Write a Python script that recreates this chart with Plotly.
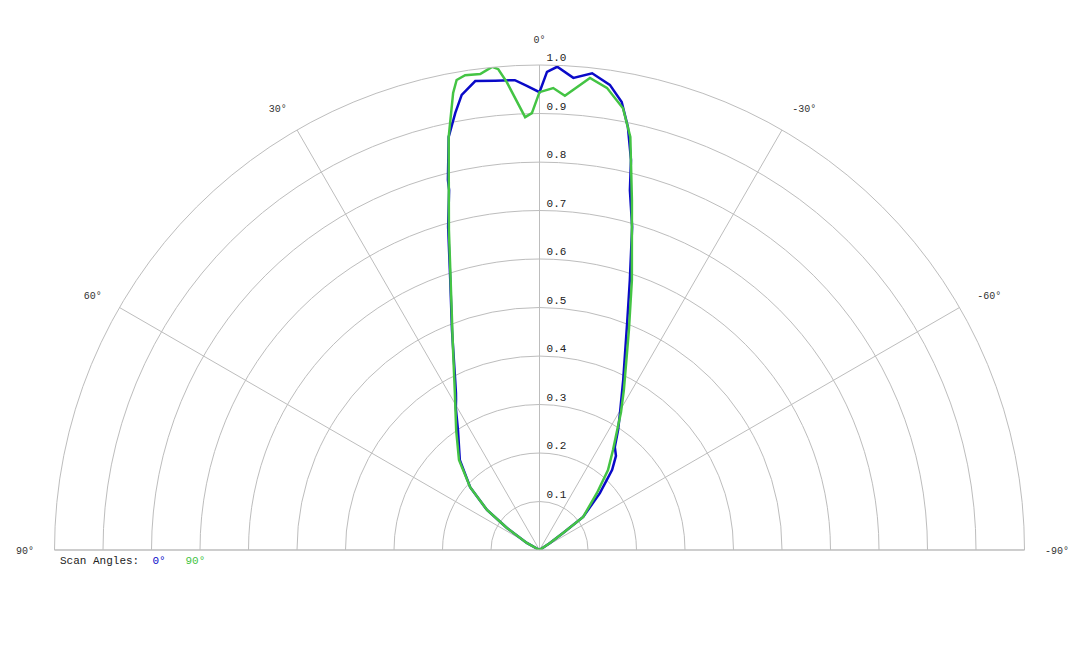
import plotly.graph_objects as go

# Scan angle series (angle in degrees, normalized radius)
series_names = ["0°", "90°"]
series_colors = ["#0a0ac8", "#44c444"]

theta_0 = [60.0, 60.8, 55.9, 52.7, 47.8, 41.5, 34.2, 30.5, 29.0, 28.0, 26.4, 21.7,
           18.3, 15.8, 14.1, 13.9, 12.4, 10.9, 9.7, 7.8, 5.4, 3.0, 1.5, 0.0,
           -0.9, -2.1, -4.1, -6.3, -8.6, -10.4, -11.8, -13.2, -14.1, -16.0, -18.5,
           -21.1, -26.2, -30.4, -33.2, -36.2, -39.1, -42.2, -46.7, -52.8, -54.1,
           -56.3, -57.0]
r_0 = [0.0, 0.030, 0.081, 0.136, 0.193, 0.248, 0.299, 0.340, 0.355, 0.367, 0.391, 0.488,
       0.586, 0.692, 0.765, 0.786, 0.872, 0.918, 0.952, 0.976, 0.972, 0.970, 0.957, 0.944,
       0.986, 0.997, 0.976, 0.989, 0.970, 0.939, 0.891, 0.826, 0.765, 0.693, 0.587,
       0.502, 0.391, 0.328, 0.296, 0.263, 0.250, 0.223, 0.171, 0.113, 0.060,
       0.026, 0.0]

theta_90 = [60.0, 60.8, 55.9, 52.7, 47.8, 41.8, 34.8, 28.3, 23.1, 15.8, 12.4, 10.7,
            10.0, 8.9, 7.1, 5.6, 4.9, 4.0, 1.9, 1.0, 0.0, -1.7, -3.2, -6.1, -8.3,
            -10.7, -12.4, -14.8, -18.9, -22.1, -27.8, -30.6, -36.3, -40.6, -45.2,
            -52.8, -54.0, -56.0, -57.0]
r_90 = [0.0, 0.030, 0.081, 0.136, 0.193, 0.249, 0.301, 0.368, 0.455, 0.686, 0.872, 0.959,
        0.984, 0.991, 0.989, 1.001, 0.995, 0.967, 0.893, 0.901, 0.944, 0.953, 0.938, 0.979, 0.963,
        0.927, 0.872, 0.746, 0.588, 0.490, 0.373, 0.330, 0.256, 0.217, 0.167,
        0.113, 0.060, 0.026, 0.0]

radial_ticks = [0.1, 0.2, 0.3, 0.4, 0.5, 0.6, 0.7, 0.8, 0.9, 1.0]
angular_ticks = [-90, -60, -30, 0, 30, 60, 90]
legend_title = "Scan Angles:"

mono = "Liberation Mono, Courier New, monospace"
grid = "#bdbdbd"

fig = go.Figure()
for name, color, th, rr in [(series_names[0], series_colors[0], theta_0, r_0),
                            (series_names[1], series_colors[1], theta_90, r_90)]:
    fig.add_trace(go.Scatterpolar(
        r=rr, theta=th, mode="lines", name=name,
        line=dict(color=color, width=2.5),
        showlegend=False,
    ))

legend_text = legend_title + "  " + "   ".join(
    f"<span style='color:{c}'>{n}</span>" for n, c in zip(series_names, series_colors))

fig.update_layout(
    width=1080, height=648,
    margin=dict(l=0, r=0, t=0, b=0),
    paper_bgcolor="white",
    polar=dict(
        domain=dict(x=[46 / 1080, 1017 / 1080], y=[1 - 542 / 648, 1 - 57 / 648]),
        sector=[0, 180],
        bgcolor="white",
        radialaxis=dict(
            range=[0, 1.0], angle=90, side="clockwise",
            tickvals=radial_ticks,
            ticktext=[f" {v:.1f}<br> " for v in radial_ticks],
            tickfont=dict(family=mono, size=11, color="#222"),
            showline=False, ticks="", gridcolor=grid, gridwidth=1,
            tickangle=90,
        ),
        angularaxis=dict(
            rotation=90, direction="counterclockwise",
            tickvals=angular_ticks, ticktext=[f"{v}°" for v in angular_ticks],
            tickfont=dict(family=mono, size=10, color="#333"),
            showline=True, linecolor=grid, linewidth=1,
            gridcolor=grid, gridwidth=1,
            ticks="outside", ticklen=18, tickcolor="rgba(0,0,0,0)",
        ),
    ),
    annotations=[dict(
        text=legend_text, x=50 / 1080, y=1 - 553 / 648, xref="paper", yref="paper",
        xanchor="left", yanchor="middle", showarrow=False,
        font=dict(family=mono, size=11, color="#222"),
    )],
)

fig.write_html("out.html")
